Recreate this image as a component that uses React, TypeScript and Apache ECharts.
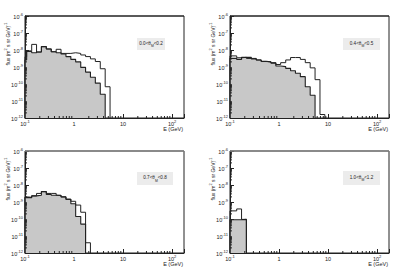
import React, { useEffect, useRef } from "react";
import * as echarts from "echarts";

// Log-spaced bin edges (GeV)
const BIN_EDGES = [0.1, 0.108, 0.137, 0.172, 0.216, 0.272, 0.343, 0.432, 0.543, 0.684, 0.861, 1.08, 1.37, 1.72, 2.16, 2.72, 3.43, 4.32, 5.43, 6.84, 8.61];

// Panel 1: 0.0 < theta_M < 0.2
const P1_TOTAL = [4.0e-9, 8.9e-9, 2.14e-8, 7.6e-9, 1.58e-8, 1.15e-8, 7.9e-9, 1.1e-8, 6.3e-9, 6.3e-9, 6.9e-9, 6.3e-9, 5.1e-9, 4.1e-9, 3.0e-9, 2.1e-9, 7.9e-10, 6.9e-11];
const P1_SECONDARY = [2.6e-9, 8.1e-9, 6.9e-9, 7.6e-9, 1.58e-8, 1.15e-8, 7.9e-9, 6.9e-9, 5.8e-9, 4.1e-9, 2.8e-9, 2.0e-9, 9.5e-10, 5.0e-10, 2.5e-10, 1.12e-10, 2.5e-11];

// Panel 2: 0.4 < theta_M < 0.5
const P2_TOTAL = [4.5e-9, 4.5e-9, 3.5e-9, 3.7e-9, 3.2e-9, 3.2e-9, 2.6e-9, 2.1e-9, 2.0e-9, 1.8e-9, 1.4e-9, 1.8e-9, 2.6e-9, 3.6e-9, 3.6e-9, 2.8e-9, 1.8e-9, 8.9e-10, 1.8e-10, 1.6e-12];
const P2_SECONDARY = [3.2e-9, 3.2e-9, 2.8e-9, 3.7e-9, 3.7e-9, 3.0e-9, 2.6e-9, 2.2e-9, 2.0e-9, 1.7e-9, 1.15e-9, 1.05e-9, 8.3e-10, 6.0e-10, 4.3e-10, 2.7e-10, 6.9e-11, 2.2e-11];

// Panel 3: 0.7 < theta_M < 0.8
const P3_TOTAL = [2.0e-9, 1.9e-9, 2.3e-9, 3.2e-9, 4.1e-9, 3.2e-9, 3.2e-9, 2.5e-9, 2.0e-9, 1.5e-9, 1.1e-9, 6.6e-10, 2.5e-10, 4.0e-12];
const P3_SECONDARY = [1.8e-9, 1.8e-9, 2.3e-9, 2.5e-9, 4.1e-9, 2.8e-9, 2.5e-9, 2.4e-9, 2.0e-9, 1.4e-9, 7.9e-10, 1.4e-10, 5.0e-11];

// Panel 4: 1.0 < theta_M < 1.2
const P4_TOTAL = [3.0e-10, 3.0e-10, 3.9e-10, 9.5e-11];
const P4_SECONDARY = [9.0e-11, 9.0e-11, 9.0e-11, 9.5e-11];

const PANEL_LOW = ["0.0", "0.4", "0.7", "1.0"];
const PANEL_HIGH = ["0.2", "0.5", "0.8", "1.2"];

const X_MIN = 0.1;
const X_MAX = 175;
const Y_MIN = 1e-12;
const Y_MAX = 1e-6;
const MINOR_MANTISSA = [2, 3, 4, 5, 6, 7, 8, 9];
const X_DECADES = [0.1, 1, 10];
const Y_DECADES = [1e-12, 1e-11, 1e-10, 1e-9, 1e-8, 1e-7];

const FONT = "Liberation Sans, Arial, Helvetica, sans-serif";
const INK = "#222";

const PANELS = [
  { left: 25, top: 16, total: P1_TOTAL, sec: P1_SECONDARY, box: [137, 38, 28, 12], topColor: INK },
  { left: 230, top: 16, total: P2_TOTAL, sec: P2_SECONDARY, box: [343, 38, 37, 12], topColor: INK },
  { left: 25, top: 151, total: P3_TOTAL, sec: P3_SECONDARY, box: [137, 172, 36, 13], topColor: "#888" },
  { left: 230, top: 151, total: P4_TOTAL, sec: P4_SECONDARY, box: [343, 171, 37, 14], topColor: "#888" },
];
const PW = 159;
const PH = 102;

function stepPoints(vals: number[]) {
  const pts: number[][] = [[BIN_EDGES[0], Y_MIN]];
  vals.forEach((v, i) => {
    pts.push([BIN_EDGES[i], v]);
    pts.push([BIN_EDGES[i + 1], v]);
  });
  pts.push([BIN_EDGES[vals.length], Y_MIN]);
  return pts;
}

function powLabel(v: number) {
  const l = Math.log10(v);
  const e = Math.round(l);
  if (Math.abs(l - e) > 1e-6) return "";
  if (e === 0) return "{b|1}";
  if (e === 1) return "{b|10}";
  return "{b|10}{s|" + e + "}";
}

const labelRich = {
  b: { fontSize: 5.5, fontFamily: FONT, color: INK, verticalAlign: "bottom", lineHeight: 8 },
  s: { fontSize: 4, fontFamily: FONT, color: INK, verticalAlign: "top", lineHeight: 8 },
};

export default function App() {
  const ref = useRef<HTMLDivElement>(null);
  useEffect(() => {
    if (!ref.current) return;
    const chart = echarts.init(ref.current, undefined, { renderer: "svg" });

    const xMinorData: number[][] = [];
    X_DECADES.forEach((d) => MINOR_MANTISSA.forEach((m) => {
      if (m * d < X_MAX) xMinorData.push([m * d, Y_MIN]);
    }));
    const yMinorData: number[][] = [];
    Y_DECADES.forEach((d) => MINOR_MANTISSA.forEach((m) => yMinorData.push([X_MIN, m * d])));

    const grid: any[] = [];
    const xAxis: any[] = [];
    const yAxis: any[] = [];
    const series: any[] = [];
    const graphic: any[] = [];

    PANELS.forEach((p, i) => {
      grid.push({ left: p.left, top: p.top, width: PW, height: PH, show: true, borderColor: INK, borderWidth: 1, backgroundColor: "#fff" });
      xAxis.push({
        type: "log", gridIndex: i, min: X_MIN, max: X_MAX, logBase: 10,
        axisLine: { show: true, lineStyle: { color: INK, width: 1 } },
        axisTick: { show: true, inside: true, length: 4, lineStyle: { color: INK } },
        axisLabel: { formatter: powLabel, rich: labelRich, margin: 1, showMinLabel: true, showMaxLabel: true },
        splitLine: { show: false },
      });
      yAxis.push({
        type: "log", gridIndex: i, min: Y_MIN, max: Y_MAX, logBase: 10,
        axisLine: { show: true, lineStyle: { color: INK, width: 1 } },
        axisTick: { show: true, inside: true, length: 4, lineStyle: { color: INK } },
        axisLabel: { formatter: powLabel, rich: labelRich, margin: 2, showMinLabel: true, showMaxLabel: true },
        splitLine: { show: false },
      });
      series.push({
        type: "line", xAxisIndex: i, yAxisIndex: i, data: stepPoints(p.sec),
        symbol: "none", showSymbol: false, lineStyle: { color: INK, width: 1.1 },
        areaStyle: { color: "#c8c8c8", opacity: 1, origin: "start" }, z: 2,
      });
      series.push({
        type: "line", xAxisIndex: i, yAxisIndex: i, data: stepPoints(p.total),
        symbol: "none", showSymbol: false, lineStyle: { color: INK, width: 1 }, z: 3,
      });
      series.push({
        type: "custom", xAxisIndex: i, yAxisIndex: i, data: xMinorData, z: 4,
        renderItem: (_params: any, api: any) => {
          const c = api.coord([api.value(0), api.value(1)]);
          return { type: "line", shape: { x1: c[0], y1: c[1], x2: c[0], y2: c[1] - 2 }, style: { stroke: INK, lineWidth: 1 } };
        },
      });
      series.push({
        type: "custom", xAxisIndex: i, yAxisIndex: i, data: yMinorData, z: 4,
        renderItem: (_params: any, api: any) => {
          const c = api.coord([api.value(0), api.value(1)]);
          return { type: "line", shape: { x1: c[0], y1: c[1], x2: c[0] + 2, y2: c[1] }, style: { stroke: INK, lineWidth: 1 } };
        },
      });
      // top frame edge
      graphic.push({
        type: "line", z: 10,
        shape: { x1: p.left, y1: p.top, x2: p.left + PW, y2: p.top },
        style: { stroke: p.topColor, lineWidth: p.topColor === INK ? 1 : 1.6 },
      });
      // y-axis title
      graphic.push({
        type: "text", x: p.left - 18, y: p.top + 28, rotation: Math.PI / 2,
        style: {
          text: "{b|flux (m}{s|2}{b| s sr GeV)}{s|-1}",
          align: "center", verticalAlign: "middle",
          rich: {
            b: { fontSize: 5, fontFamily: FONT, fill: INK, verticalAlign: "bottom", lineHeight: 7 },
            s: { fontSize: 3.8, fontFamily: FONT, fill: INK, verticalAlign: "top", lineHeight: 7 },
          },
        },
      });
      // x-axis title
      graphic.push({
        type: "text", x: p.left + PW - 1, y: p.top + PH + 11,
        style: { text: "E (GeV)", align: "right", verticalAlign: "middle", fontSize: 5.5, fontFamily: FONT, fill: INK },
      });
      // label box
      const [bx, by, bw, bh] = p.box;
      graphic.push({ type: "rect", shape: { x: bx, y: by, width: bw, height: bh }, style: { fill: "#ececec", stroke: "none" } });
      graphic.push({
        type: "text", x: bx + bw / 2, y: by + bh / 2,
        style: {
          text: "{n|" + PANEL_LOW[i] + "<θ}{u|M}{n|<" + PANEL_HIGH[i] + "}",
          align: "center", verticalAlign: "middle",
          rich: {
            n: { fontSize: 4.6, fontFamily: FONT, fill: INK, verticalAlign: "top", lineHeight: 7 },
            u: { fontSize: 3.4, fontFamily: FONT, fill: INK, verticalAlign: "bottom", lineHeight: 7 },
          },
        },
      });
    });

    chart.setOption({
      animation: false,
      backgroundColor: "#fff",
      grid, xAxis, yAxis, series, graphic,
    });
    return () => chart.dispose();
  }, []);
  return <div ref={ref} style={{ position: "fixed", left: 0, top: 0, width: 415, height: 270, background: "#fff" }} />;
}
